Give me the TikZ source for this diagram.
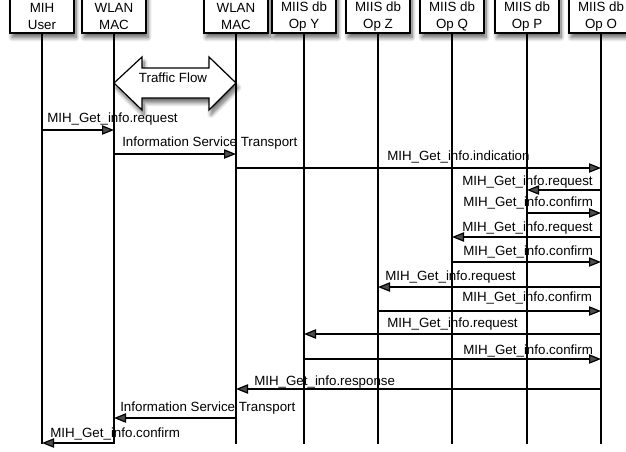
\documentclass[tikz,border=0pt]{standalone}
\usepackage{fontspec}
\setmainfont{Liberation Sans}
\usetikzlibrary{arrows.meta,shadows.blur}
\begin{document}
\begin{tikzpicture}[x=0.75pt,y=-0.75pt,
  font=\fontsize{10}{12}\selectfont,
  softshadow/.style={blur shadow={shadow xshift=1.5pt,shadow yshift=-3.5pt,shadow blur radius=3pt,shadow blur steps=10,shadow opacity=60}},
  hdr/.style={draw,fill=white,line width=0.9pt,minimum width=48pt,minimum height=33pt,inner sep=0pt,softshadow},
  htxt/.style={align=center,inner sep=0pt,font=\fontsize{10}{12.75}\selectfont},
  life/.style={line width=0.9pt},
  msg/.style={line width=0.9pt,-{Triangle[length=9pt,width=7pt]}},
  lbl/.style={anchor=base west,inner sep=0pt}]
\useasboundingbox (0,0) rectangle (626,451);
\clip (0,0) rectangle (626,451);

% participant boxes
\node[hdr] (U)  at (42,11)  {};
\node[hdr] (W1) at (114,11) {};
\node[hdr] (W2) at (236,11) {};
\node[hdr] (Y)  at (304,11) {};
\node[hdr] (Z)  at (378,11) {};
\node[hdr] (Q)  at (452,11) {};
\node[hdr] (P)  at (527,11) {};
\node[hdr] (O)  at (601,11) {};
\node[htxt] (Ut)  at (42,16.5)  {MIH\\User};
\node[htxt] (W1t) at (114,16.5) {WLAN\\MAC};
\node[htxt] (W2t) at (236,16.5) {WLAN\\MAC};
\node[htxt] (Yt)  at (304,16.5) {MIIS db\\Op Y};
\node[htxt] (Zt)  at (378,16.5) {MIIS db\\Op Z};
\node[htxt] (Qt)  at (452,16.5) {MIIS db\\Op Q};
\node[htxt] (Pt)  at (527,16.5) {MIIS db\\Op P};
\node[htxt] (Ot)  at (601,16.5) {MIIS db\\Op O};

% lifelines
\foreach \n in {U,W1,W2,Y,Z,Q,P,O}
  \draw[life] (\n.south) -- (\n.south |- 0,444);

% traffic flow block arrow
\path[draw,fill=white,line width=0.9pt,line join=miter,softshadow]
  (114,83) -- (142,57) -- (142,68) -- (209,68) -- (209,57) -- (236,83)
  -- (209,110) -- (209,98) -- (142,98) -- (142,110) -- cycle;
\node[inner sep=0pt] (tf) at (173,77.5) {Traffic Flow};

% messages
\draw[msg] (U |- 0,130) -- (W1 |- 0,130);
\node[lbl] (m1) at (47,122.5) {MIH\_Get\_info.request};
\draw[msg] (W1 |- 0,154) -- (W2 |- 0,154);
\node[lbl] (m2) at (122,146.5) {Information Service Transport};
\draw[msg] (W2 |- 0,168) -- (O |- 0,168);
\node[lbl] (m3) at (387,160.5) {MIH\_Get\_info.indication};
\draw[msg] (O |- 0,190) -- (P |- 0,190);
\node[lbl] (m4) at (462,185.5) {MIH\_Get\_info.request};
\draw[msg] (P |- 0,213) -- (O |- 0,213);
\node[lbl] (m5) at (463,206.5) {MIH\_Get\_info.confirm};
\draw[msg] (O |- 0,237) -- (Q |- 0,237);
\node[lbl] (m6) at (462,231.5) {MIH\_Get\_info.request};
\draw[msg] (Q |- 0,262) -- (O |- 0,262);
\node[lbl] (m7) at (463,255.5) {MIH\_Get\_info.confirm};
\draw[msg] (O |- 0,287) -- (Z |- 0,287);
\node[lbl] (m8) at (385,280.5) {MIH\_Get\_info.request};
\draw[msg] (Z |- 0,311) -- (O |- 0,311);
\node[lbl] (m9) at (462,301.5) {MIH\_Get\_info.confirm};
\draw[msg] (O |- 0,334) -- (Y |- 0,334);
\node[lbl] (m10) at (387,327.5) {MIH\_Get\_info.request};
\draw[msg] (Y |- 0,359) -- (O |- 0,359);
\node[lbl] (m11) at (463,354.5) {MIH\_Get\_info.confirm};
\draw[msg] (O |- 0,389) -- (W2 |- 0,389);
\node[lbl] (m12) at (254,385.5) {MIH\_Get\_info.response};
\draw[msg] (W2 |- 0,418) -- (W1 |- 0,418);
\node[lbl] (m13) at (120,411.5) {Information Service Transport};
\draw[msg] (W1 |- 0,443) -- (U |- 0,443);
\node[lbl] (m14) at (50,437.5) {MIH\_Get\_info.confirm};
\end{tikzpicture}
\end{document}
